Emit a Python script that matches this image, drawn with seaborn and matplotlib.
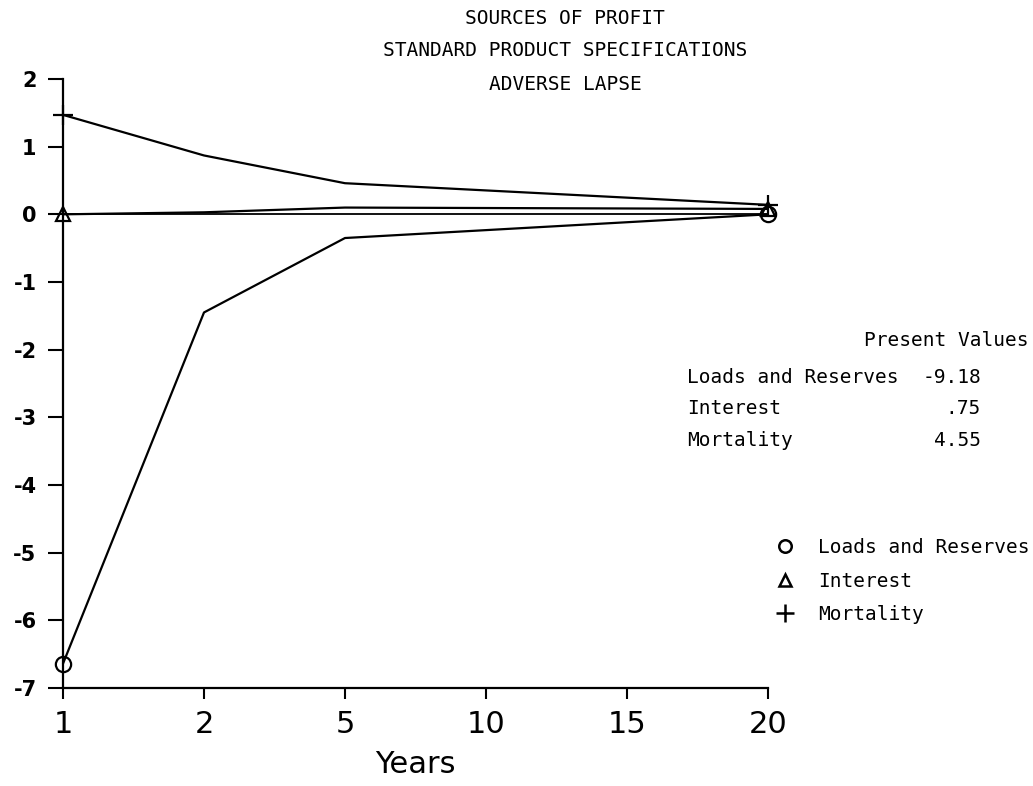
import matplotlib
matplotlib.use("Agg")
import matplotlib.pyplot as plt
from matplotlib.lines import Line2D
import numpy as np
import pandas as pd
import seaborn as sns

# Axis categories (evenly spaced year ticks)
tick_years = [1, 2, 5, 10, 15, 20]
years = [1, 2, 5, 20]

# Profit sources by policy year
loads_reserves = [-6.64, -1.45, -0.35, 0.0]
interest = [0.0, 0.03, 0.10, 0.08]
mortality = [1.47, 0.87, 0.46, 0.14]

series_names = ["Loads and Reserves", "Interest", "Mortality"]
series_values = [loads_reserves, interest, mortality]
series_markers = ["o", "^", "+"]

# Present values table
pv_labels = ["Loads and Reserves", "Interest", "Mortality"]
pv_values = ["-9.18", ".75", "4.55"]

title_lines = ["SOURCES OF PROFIT", "STANDARD PRODUCT SPECIFICATIONS", "ADVERSE LAPSE"]

sns.set_theme(style="ticks")
plt.rcParams["font.family"] = ["DejaVu Sans"]
plt.rcParams["axes.unicode_minus"] = False
for key in ["text.color", "axes.labelcolor", "xtick.color", "ytick.color",
            "xtick.labelcolor", "ytick.labelcolor", "legend.labelcolor"]:
    plt.rcParams[key] = "black"

W, H = 1033, 786
fig = plt.figure(figsize=(W / 100, H / 100), dpi=100)
fig.patch.set_facecolor("white")
ax = fig.add_axes([63 / W, 1 - 688 / H, 705 / W, 609 / H])
ax.set_facecolor("white")

pos = [tick_years.index(y) for y in years]
frames = []
for name, vals in zip(series_names, series_values):
    frames.append(pd.DataFrame({"pos": pos, "value": vals, "source": name}))
df = pd.concat(frames, ignore_index=True)

ax.axhline(0, color="black", lw=1.3, zorder=1)

marker_sizes = {"o": 11, "^": 10, "+": 15}
for name, mk in zip(series_names, series_markers):
    sub = df[df["source"] == name]
    sns.lineplot(data=sub, x="pos", y="value", ax=ax, color="black", lw=1.6,
                 marker=mk, markevery=[0, len(sub) - 1], markersize=marker_sizes[mk],
                 markerfacecolor="none", markeredgecolor="black", markeredgewidth=1.6,
                 estimator=None, sort=False, legend=False, clip_on=False, zorder=3)

ax.set_xlim(0, len(tick_years) - 1)
ax.set_ylim(-7, 2)
ax.set_xticks(range(len(tick_years)))
ax.set_xticklabels([str(t) for t in tick_years], fontsize=22, fontweight="normal")
ax.set_yticks(range(-7, 3))
ax.set_yticklabels([str(v) for v in range(-7, 3)], fontsize=15, fontweight="bold")
ax.tick_params(axis="x", direction="out", length=8, width=1.5, pad=8, colors="black")
ax.tick_params(axis="y", direction="out", length=11, width=1.5, pad=8, colors="black")
ax.set_xlabel("Years", fontsize=22, labelpad=8, color="black")
ax.set_ylabel("")
for side in ["top", "right"]:
    ax.spines[side].set_visible(False)
for side in ["left", "bottom"]:
    ax.spines[side].set_color("black")
    ax.spines[side].set_linewidth(1.6)

mono = "DejaVu Sans Mono"
for i, line in enumerate(title_lines):
    fig.text(565 / W, 1 - (18 + 33 * i) / H, line, ha="center", va="center",
             family=mono, fontsize=14, color="black")

fig.text(1028 / W, 1 - 341 / H, "Present Values", ha="right", va="center",
         family=mono, fontsize=14, color="black")
for i, (lab, val) in enumerate(zip(pv_labels, pv_values)):
    y = 1 - (377 + 32 * i) / H
    fig.text(687 / W, y, lab, ha="left", va="center", family=mono, fontsize=14, color="black")
    fig.text(981 / W, y, val, ha="right", va="center", family=mono, fontsize=14, color="black")

handles = [Line2D([], [], ls="none", marker=mk, markersize=marker_sizes[mk] - 2,
                  markerfacecolor="none", markeredgecolor="black", markeredgewidth=1.8)
           for mk in series_markers]
leg = fig.legend(handles, series_names, loc="upper left",
                 bbox_to_anchor=(775 / W, 1 - 538 / H),
                 frameon=False, prop={"family": mono, "size": 14}, handlelength=1.0,
                 handletextpad=1.2, labelspacing=0.75, borderpad=0, borderaxespad=0)
for t in leg.get_texts():
    t.set_color("black")

fig.savefig("out.png", dpi=100, facecolor="white")
